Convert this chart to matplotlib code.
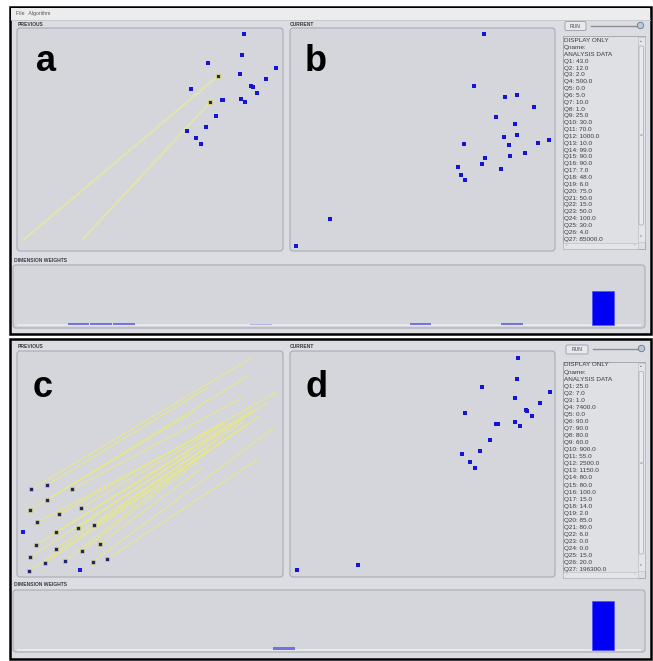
import matplotlib
matplotlib.use('Agg')
import matplotlib.pyplot as plt
from matplotlib.patches import Rectangle, FancyBboxPatch, Circle

W, H = 653, 661

# ---------------- data (projection coordinates inside each panel) ----------------
# Panel a: previous layout (top screenshot)
a_x = [226.7, 225.3, 191.0, 259.0, 223.3, 248.7, 174.0, 234.3, 235.7, 240.3,
       204.7, 206.3, 224.0, 228.3, 199.3, 189.3, 170.3, 179.0, 184.0]
a_y = [6.3, 27.0, 35.0, 40.3, 46.3, 51.3, 61.3, 58.0, 59.3, 64.7,
       72.3, 72.3, 70.7, 74.3, 88.0, 99.0, 102.7, 110.3, 116.0]
a_sel_x = [200.7, 193.3]
a_sel_y = [48.3, 74.0]
a_to_x = [6.3, 65.7]
a_to_y = [212.0, 211.3]

# Panel b: current layout (top screenshot)
b_x = [194.0, 183.7, 215.3, 227.0, 244.3, 206.3, 224.7, 214.0, 226.7, 259.0, 247.7, 173.7,
       218.7, 234.7, 220.0, 194.7, 192.0, 168.3, 210.7, 171.0, 174.7, 40.3, 6.0]
b_y = [6.3, 58.0, 69.3, 66.7, 79.0, 89.3, 95.7, 109.3, 107.3, 111.7, 115.0, 116.3,
       117.3, 125.3, 127.7, 130.0, 136.3, 138.7, 141.3, 146.7, 152.3, 191.0, 217.7]

# Panel c: previous layout (bottom screenshot) with movement lines
c_x = [14.0, 29.7, 30.3, 12.7, 55.3, 20.0, 42.0, 63.7, 39.3, 18.7, 60.7,
       13.0, 77.3, 38.7, 12.3, 27.7, 48.3, 65.0, 83.0, 75.7, 90.3]
c_y = [138.3, 134.3, 148.7, 159.3, 138.3, 171.3, 163.3, 157.0, 181.0, 194.0, 176.7,
       206.0, 174.3, 198.0, 219.7, 212.0, 209.7, 200.0, 193.0, 211.0, 208.0]
c_to_x = [234.7, 192.3, 229.7, 175.3, 224.7, 206.0, 260.3, 207.7, 235.7, 250.0, 237.3,
          171.7, 225.3, 200.3, 241.7, 229.7, 190.3, 180.3, 185.3, 256.3, 239.7]
c_to_y = [6.7, 35.7, 25.7, 61.7, 47.0, 72.7, 40.7, 73.0, 58.7, 52.0, 60.3,
          103.3, 71.3, 88.7, 65.3, 74.7, 99.7, 111.0, 116.7, 77.3, 109.0]
c_fixed_x = [6.0, 63.0]
c_fixed_y = [181.0, 218.7]

# Panel d: current layout (bottom screenshot)
d_x = [228.0, 226.7, 192.3, 260.3, 224.7, 250.0, 175.3, 235.7, 237.3, 241.7, 206.0,
       207.7, 225.3, 229.7, 200.3, 190.3, 171.7, 180.3, 185.3, 68.0, 6.7]
d_y = [7.0, 27.7, 35.7, 40.7, 47.0, 52.0, 61.7, 58.7, 60.3, 65.3, 72.7,
       73.0, 71.3, 74.7, 88.7, 99.7, 103.3, 111.0, 116.7, 214.0, 218.7]

# Dimension weights (27 dimensions, Q1..Q27)
dims = list(range(27))
top_w = [0, 0, 0.035, 0.035, 0.035, 0, 0, 0, 0, 0, 0.02, 0, 0, 0, 0, 0, 0, 0.035,
         0, 0, 0, 0.035, 0, 0, 0, 0.58, 0]
bot_w = [0, 0, 0, 0, 0, 0, 0, 0, 0, 0, 0, 0.035, 0, 0, 0, 0, 0, 0,
         0, 0, 0, 0, 0, 0, 0, 0.815, 0]

# Analysis data shown in the list box
top_q = [43.0, 12.0, 2.0, 500.0, 0.0, 5.0, 10.0, 1.0, 25.0, 30.0, 70.0, 1000.0, 10.0, 99.0,
         90.0, 90.0, 7.0, 48.0, 6.0, 75.0, 50.0, 15.0, 50.0, 100.0, 30.0, 4.0, 85000.0]
bot_q = [25.0, 7.0, 1.0, 7400.0, 0.0, 90.0, 90.0, 80.0, 60.0, 900.0, 55.0, 2500.0, 1150.0, 80.0,
         80.0, 100.0, 15.0, 14.0, 2.0, 85.0, 80.0, 6.0, 0.0, 0.0, 15.0, 20.0, 196300.0]
list_header = ["DISPLAY ONLY", "Qname:", "ANALYSIS DATA"]

# ---------------- styling ----------------
FRAME_BG = '#dcdde2'
PANEL_BG = '#d5d6db'
PANEL_EDGE = '#a9acb3'
FONT = 'Liberation Sans'

fig = plt.figure(figsize=(W / 100, H / 100), dpi=100)
fig.patch.set_facecolor('white')


def px_axes(x0, y0, x1, y1, z=1):
    ax = fig.add_axes([x0 / W, 1 - y1 / H, (x1 - x0) / W, (y1 - y0) / H], zorder=z)
    ax.set_axis_off()
    ax.patch.set_alpha(0)
    return ax


bg = px_axes(0, 0, W, H, z=0)
bg.set_xlim(0, W)
bg.set_ylim(H, 0)


def rbox(x0, y0, x1, y1, fc=PANEL_BG, ec=PANEL_EDGE, lw=0.8, r=3, z=1):
    p = FancyBboxPatch((x0, y0), x1 - x0, y1 - y0,
                       boxstyle=f"round,pad=0,rounding_size={r}",
                       fc=fc, ec=ec, lw=lw, zorder=z)
    bg.add_patch(p)


def small_label(x, y, s):
    bg.text(x, y, s, fontsize=3.6, fontweight='bold', color='#3a3a3a',
            family=FONT, va='center', ha='left', zorder=5)


# ---- outer frames ----
bg.add_patch(Rectangle((10, 7), 641, 327, fc=FRAME_BG, ec='black', lw=1.8, zorder=1))
bg.add_patch(Rectangle((10, 338.5), 641, 320.5, fc=FRAME_BG, ec='black', lw=1.8, zorder=1))
# menu bar
bg.add_patch(Rectangle((11, 8), 639, 11.5, fc='#ececee', ec='none', zorder=2))
bg.plot([11, 650], [19.5, 19.5], color='#c5c6cb', lw=0.6, zorder=3)
bg.text(16, 14, "File   Algorithm", fontsize=3.7, color='#555555', family=FONT,
        va='center', ha='left', zorder=5)

for off in (0, 323):
    small_label(18, 24 + off, "PREVIOUS")
    small_label(290, 24 + off, "CURRENT")
    small_label(14, 260 + off + (2 if off else 0), "DIMENSION WEIGHTS")
    rbox(17, 28 + off, 283, 251 + off + (3 if off else 0))
    rbox(290, 28 + off, 555, 251 + off + (3 if off else 0))

# dimension weight boxes
rbox(13, 265, 645, 328)
rbox(13, 590, 645, 652)

# ---- right-hand controls ----
for (ry, ly, x_run0, x_run1, knob_x, lb0, lb1) in [(26, 25.5, 565, 586, 640.5, 36, 249),
                                                    (349.5, 348.5, 566, 588, 641.5, 361.5, 578)]:
    rbox(x_run0, ry - 4.5, x_run1, ry + 4.5, fc='#e8e9ec', ec='#9a9ca3', lw=0.6, r=1.5, z=3)
    bg.text((x_run0 + x_run1) / 2, ry, "RUN", fontsize=3.6, color='#444444', family=FONT,
            ha='center', va='center', zorder=5)
    bg.plot([x_run1 + 5, knob_x - 2], [ly, ly], color='#8c8e94', lw=1.0, zorder=3)
    bg.add_patch(Circle((knob_x, ly), 3.2, fc='#b9c9d8', ec='#667788', lw=0.6, zorder=4))
    # list box
    bg.add_patch(Rectangle((562.5, lb0), 82.5, lb1 - lb0, fc='#dfe0e4', ec='#a0a2a8', lw=0.6, zorder=2))
    # vertical scrollbar
    bg.add_patch(Rectangle((638, lb0 + 1), 6.5, lb1 - lb0 - 8, fc='#e4e5e8', ec='#b5b7bc', lw=0.4, zorder=3))
    rbox(639, lb0 + 10, 643.5, lb1 - 24, fc='#e9eaed', ec='#a5a7ad', lw=0.5, r=1.5, z=4)
    bg.text(641.2, lb0 + 5, "\u25b4", fontsize=2.5, color='#666666', ha='center', va='center', zorder=5)
    bg.text(641.2, lb1 - 13, "\u25be", fontsize=2.5, color='#666666', ha='center', va='center', zorder=5)
    bg.text(641.2, (lb0 + lb1) / 2 - 7, "\u2261", fontsize=2.5, color='#888888', ha='center', va='center', zorder=5)
    # horizontal scrollbar
    bg.add_patch(Rectangle((563, lb1 - 6.5), 75, 6, fc='#e4e5e8', ec='#b5b7bc', lw=0.4, zorder=3))
    bg.text(566.5, lb1 - 3.5, "\u2039", fontsize=2.8, color='#666666', ha='center', va='center', zorder=5)
    bg.text(634, lb1 - 3.5, "\u203a", fontsize=2.8, color='#666666', ha='center', va='center', zorder=5)

# ---- list texts ----
for (y0, y1, first, step, vals) in [(36, 242.5, 40.7, 6.84, top_q), (361.5, 571.5, 365.0, 7.06, bot_q)]:
    lax = px_axes(562.5, y0, 637.5, y1, z=3)
    lax.set_xlim(562.5, 637.5)
    lax.set_ylim(y1, y0)
    lines = list_header + [f"Q{i + 1}: {v:.1f}" for i, v in enumerate(vals)]
    for k, s in enumerate(lines):
        lax.text(564, first + k * step, s, fontsize=4.6, color='#3a3a3a', family=FONT,
                 va='center', ha='left', clip_on=True)

# ---- scatter panels ----
def scatter_panel(x0, y0, x1, y1):
    ax = px_axes(x0, y0, x1, y1, z=4)
    ax.set_xlim(0, x1 - x0)
    ax.set_ylim(y1 - y0, 0)
    return ax


BLUE = '#1414d6'
DARK = '#23236c'

# panel a
ax_a = scatter_panel(17, 28, 283, 251)
for i in range(len(a_sel_x)):
    ax_a.plot([a_sel_x[i], a_to_x[i]], [a_sel_y[i], a_to_y[i]], color='#e2e5b0', lw=1.6,
              alpha=0.95, solid_capstyle='round', zorder=2)
ax_a.scatter(a_x, a_y, s=9, marker='s', color=BLUE, linewidths=0, zorder=3, clip_on=False)
ax_a.scatter(a_sel_x, a_sel_y, s=11, marker='s', color=DARK, edgecolors='#dada7a',
             linewidths=0.6, zorder=3, clip_on=False)
ax_a.text(19, 43, "a", fontsize=26, fontweight='bold', family=FONT, color='black',
          ha='left', va='baseline')

# panel b
ax_b = scatter_panel(290, 28, 555, 251)
ax_b.scatter(b_x, b_y, s=9, marker='s', color=BLUE, linewidths=0, zorder=3, clip_on=False)
ax_b.text(15, 42.7, "b", fontsize=26, fontweight='bold', family=FONT, color='black',
          ha='left', va='baseline')

# panel c
ax_c = scatter_panel(17, 351, 283, 577)
for i in range(len(c_x)):
    ax_c.plot([c_x[i], c_to_x[i]], [c_y[i], c_to_y[i]], color='#f2f060', lw=0.65,
              alpha=0.75, zorder=2)
ax_c.scatter(c_x, c_y, s=10, marker='s', color=DARK, edgecolors='#d6d68a',
             linewidths=0.5, zorder=3, clip_on=False)
ax_c.scatter(c_fixed_x, c_fixed_y, s=9, marker='s', color='#1a1ae8', linewidths=0,
             zorder=3, clip_on=False)
ax_c.text(16, 45.7, "c", fontsize=26, fontweight='bold', family=FONT, color='black',
          ha='left', va='baseline')

# panel d
ax_d = scatter_panel(290, 351, 555, 577)
ax_d.scatter(d_x, d_y, s=9, marker='s', color=BLUE, linewidths=0, zorder=3, clip_on=False)
ax_d.text(15.7, 45.7, "d", fontsize=26, fontweight='bold', family=FONT, color='black',
          ha='left', va='baseline')

# ---- dimension weight bars ----
def weight_color(w):
    if w >= 0.1:
        return '#0000f5'
    if w >= 0.03:
        return '#7272e4'
    return '#b3b3ec'


for (base, top, weights) in [(325.5, 265.5, top_w), (649.5, 590.5, bot_w)]:
    axw = px_axes(17, top, 641, base + 2, z=4)
    slot0, slot = 22.0, 22.8
    axw.set_xlim((17 - slot0) / slot, (641 - slot0) / slot)
    span = base - top
    axw.set_ylim(-2 / span, 1.0)
    axw.axhline(0, color='#e9eaee', lw=1.3, zorder=1)
    axw.bar(dims, weights, width=0.96, align='edge',
            color=[weight_color(w) for w in weights],
            edgecolor=['#5050ff' if w >= 0.1 else 'none' for w in weights],
            linewidth=0.5, zorder=2)

fig.savefig('out.png', dpi=100, facecolor='white')
